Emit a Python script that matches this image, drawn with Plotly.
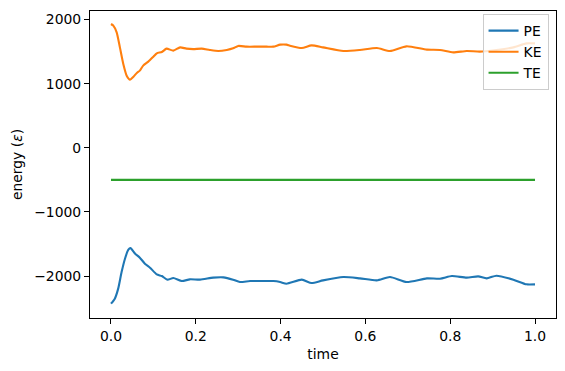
import plotly.graph_objects as go

# ---- data ----
ke_t = [0.0, 0.0055, 0.0134, 0.021, 0.029, 0.037, 0.045, 0.053, 0.061, 0.068, 0.076, 0.088,
        0.100, 0.108, 0.120, 0.131, 0.147, 0.163, 0.178, 0.194, 0.214, 0.233, 0.253, 0.273,
        0.288, 0.300, 0.320, 0.344, 0.367, 0.383, 0.399, 0.414, 0.422, 0.450, 0.473, 0.500,
        0.548, 0.587, 0.627, 0.658, 0.697, 0.745, 0.776, 0.807, 0.839, 0.870, 0.909, 0.949,
        0.980, 1.000]
ke_v = [1931, 1905, 1801, 1567, 1308, 1126, 1064, 1110, 1168, 1204, 1282, 1344,
        1422, 1474, 1495, 1547, 1516, 1567, 1547, 1540, 1547, 1526, 1511, 1526,
        1552, 1589, 1578, 1578, 1578, 1578, 1609, 1609, 1593, 1557, 1598, 1567,
        1511, 1526, 1557, 1511, 1583, 1531, 1526, 1489, 1511, 1500, 1526, 1567,
        1629, 1629]

pe_t = [0.0, 0.009, 0.017, 0.025, 0.033, 0.041, 0.046, 0.057, 0.068, 0.080, 0.092, 0.108,
        0.120, 0.133, 0.147, 0.167, 0.186, 0.210, 0.241, 0.265, 0.288, 0.304, 0.328, 0.359,
        0.383, 0.399, 0.414, 0.450, 0.473, 0.500, 0.548, 0.587, 0.627, 0.658, 0.697, 0.745,
        0.776, 0.804, 0.839, 0.866, 0.886, 0.909, 0.949, 0.980, 1.000]
pe_v = [-2430, -2352, -2196, -1938, -1729, -1589, -1564, -1651, -1713, -1807, -1869, -1974,
        -2000, -2056, -2031, -2078, -2051, -2056, -2025, -2020, -2056, -2093, -2078, -2078,
        -2078, -2093, -2119, -2056, -2109, -2067, -2015, -2036, -2067, -2015, -2093, -2036,
        -2041, -2000, -2025, -2005, -2036, -1994, -2056, -2129, -2129]

te_t = [0.0, 1.0]
te_v = [-500, -500]

x_ticks = [0.0, 0.2, 0.4, 0.6, 0.8, 1.0]
x_tick_text = ["0.0", "0.2", "0.4", "0.6", "0.8", "1.0"]
y_ticks = [-2000, -1000, 0, 1000, 2000]
y_tick_text = ["\u22122000", "\u22121000", "0", "1000", "2000"]

FONT = "DejaVu Sans"

fig = go.Figure()
fig.add_trace(go.Scatter(x=pe_t, y=pe_v, mode="lines", name="PE",
                         line=dict(color="#1f77b4", width=2.1, shape="spline", smoothing=0.6)))
fig.add_trace(go.Scatter(x=ke_t, y=ke_v, mode="lines", name="KE",
                         line=dict(color="#ff7f0e", width=2.1, shape="spline", smoothing=0.6)))
fig.add_trace(go.Scatter(x=te_t, y=te_v, mode="lines", name="TE",
                         line=dict(color="#2ca02c", width=2.1)))

axis_common = dict(showline=True, mirror=True, linecolor="black", linewidth=1.1,
                   ticks="outside", ticklen=5, tickwidth=1.1, tickcolor="black",
                   showgrid=False, zeroline=False,
                   tickfont=dict(family=FONT, size=13.9, color="black"))

fig.update_layout(
    width=565, height=371,
    margin=dict(l=90, r=9, t=11, b=53),
    paper_bgcolor="white", plot_bgcolor="white",
    font=dict(family=FONT, size=13.9, color="black"),
    xaxis=dict(range=[-0.0495, 1.0495], tickvals=x_ticks, ticktext=x_tick_text,
               title=dict(text="time", font=dict(family=FONT, size=13.9), standoff=6),
               **axis_common),
    yaxis=dict(range=[-2654, 2134], tickvals=y_ticks, ticktext=y_tick_text,
               title=dict(text="energy (<i>\u03b5</i>)", font=dict(family=FONT, size=13.9), standoff=8),
               **axis_common),
    legend=dict(x=0.984, y=0.99, xanchor="right", yanchor="top",
                bgcolor="rgba(255,255,255,0.8)", bordercolor="#cccccc", borderwidth=1,
                font=dict(family=FONT, size=13.9), tracegroupgap=0),
    showlegend=True,
)

fig.write_html("out.html")
